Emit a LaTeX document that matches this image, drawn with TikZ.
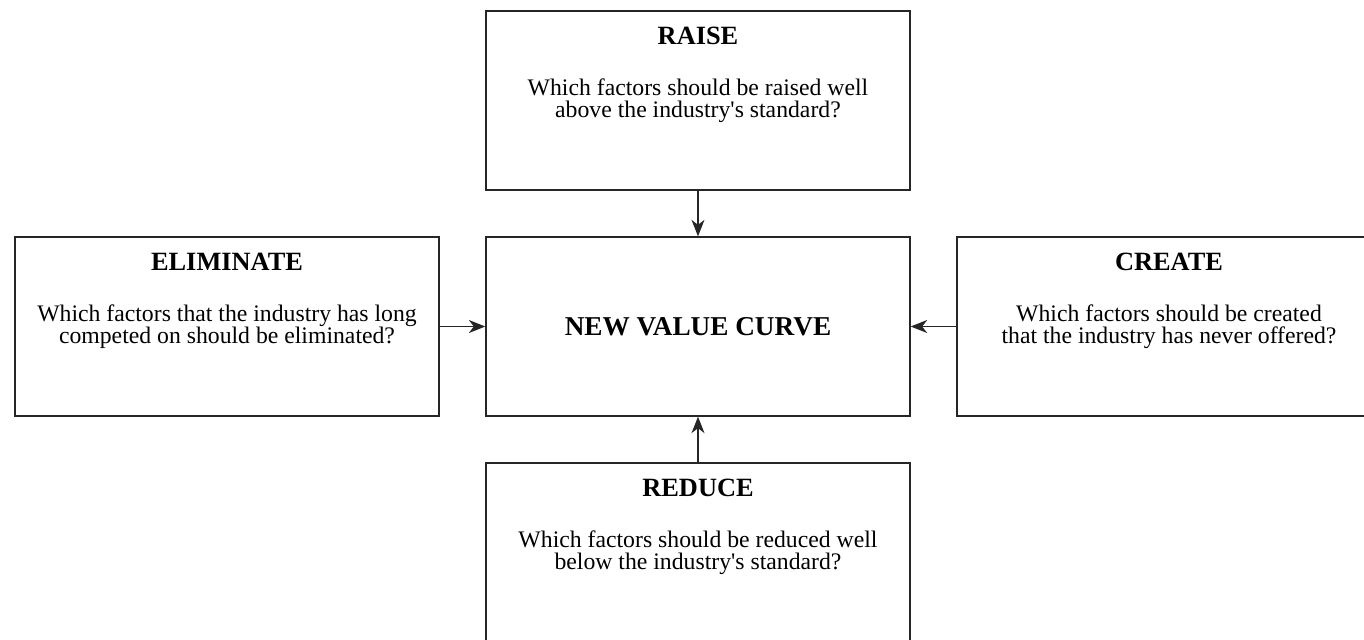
\documentclass[tikz,border=0pt]{standalone}
\usepackage{fontspec}
\setmainfont{Liberation Serif}
\usetikzlibrary{positioning,arrows.meta}

\begin{document}
\begin{tikzpicture}[
    box/.style={rectangle, draw=black!85, line width=0.75pt, minimum width=8.48cm, minimum height=3.58cm, align=center, font=\fontsize{13.5}{12.4}\selectfont},
    title/.style={inner sep=0pt, font=\fontsize{15}{15}\selectfont\bfseries},
    connection/.style={-{Stealth[length=3.3mm, width=2.6mm, inset=1mm]}, draw=black!85, line width=0.75pt}
  ]
    \useasboundingbox (0,0) rectangle (27.28,-12.78);

    % Boxes
    \node[box] (raise) at (13.96,-2.01) {Which factors should be raised well\\above the industry\textquotesingle s standard?};
    \node[box, font=\fontsize{15.5}{15}\selectfont\bfseries] (curve) at (13.96,-6.53) {NEW VALUE CURVE};
    \node[box] (eliminate) at (4.54,-6.53) {Which factors that the industry has long\\competed on should be eliminated?};
    \node[box] (create) at (23.38,-6.53) {Which factors should be created\\that the industry has never offered?};
    \node[box] (reduce) at (13.96,-11.05) {Which factors should be reduced well\\below the industry\textquotesingle s standard?};

    % Titles
    \node[title, below=0.32cm of raise.north] (raiseT) {RAISE};
    \node[title, below=0.32cm of eliminate.north] (eliminateT) {ELIMINATE};
    \node[title, below=0.32cm of create.north] (createT) {CREATE};
    \node[title, below=0.32cm of reduce.north] (reduceT) {REDUCE};

    % Connections
    \draw[connection] (raise) -- (curve);
    \draw[connection] (eliminate) -- (curve);
    \draw[connection] (create) -- (curve);
    \draw[connection] (reduce) -- (curve);

  \end{tikzpicture}
\end{document}
